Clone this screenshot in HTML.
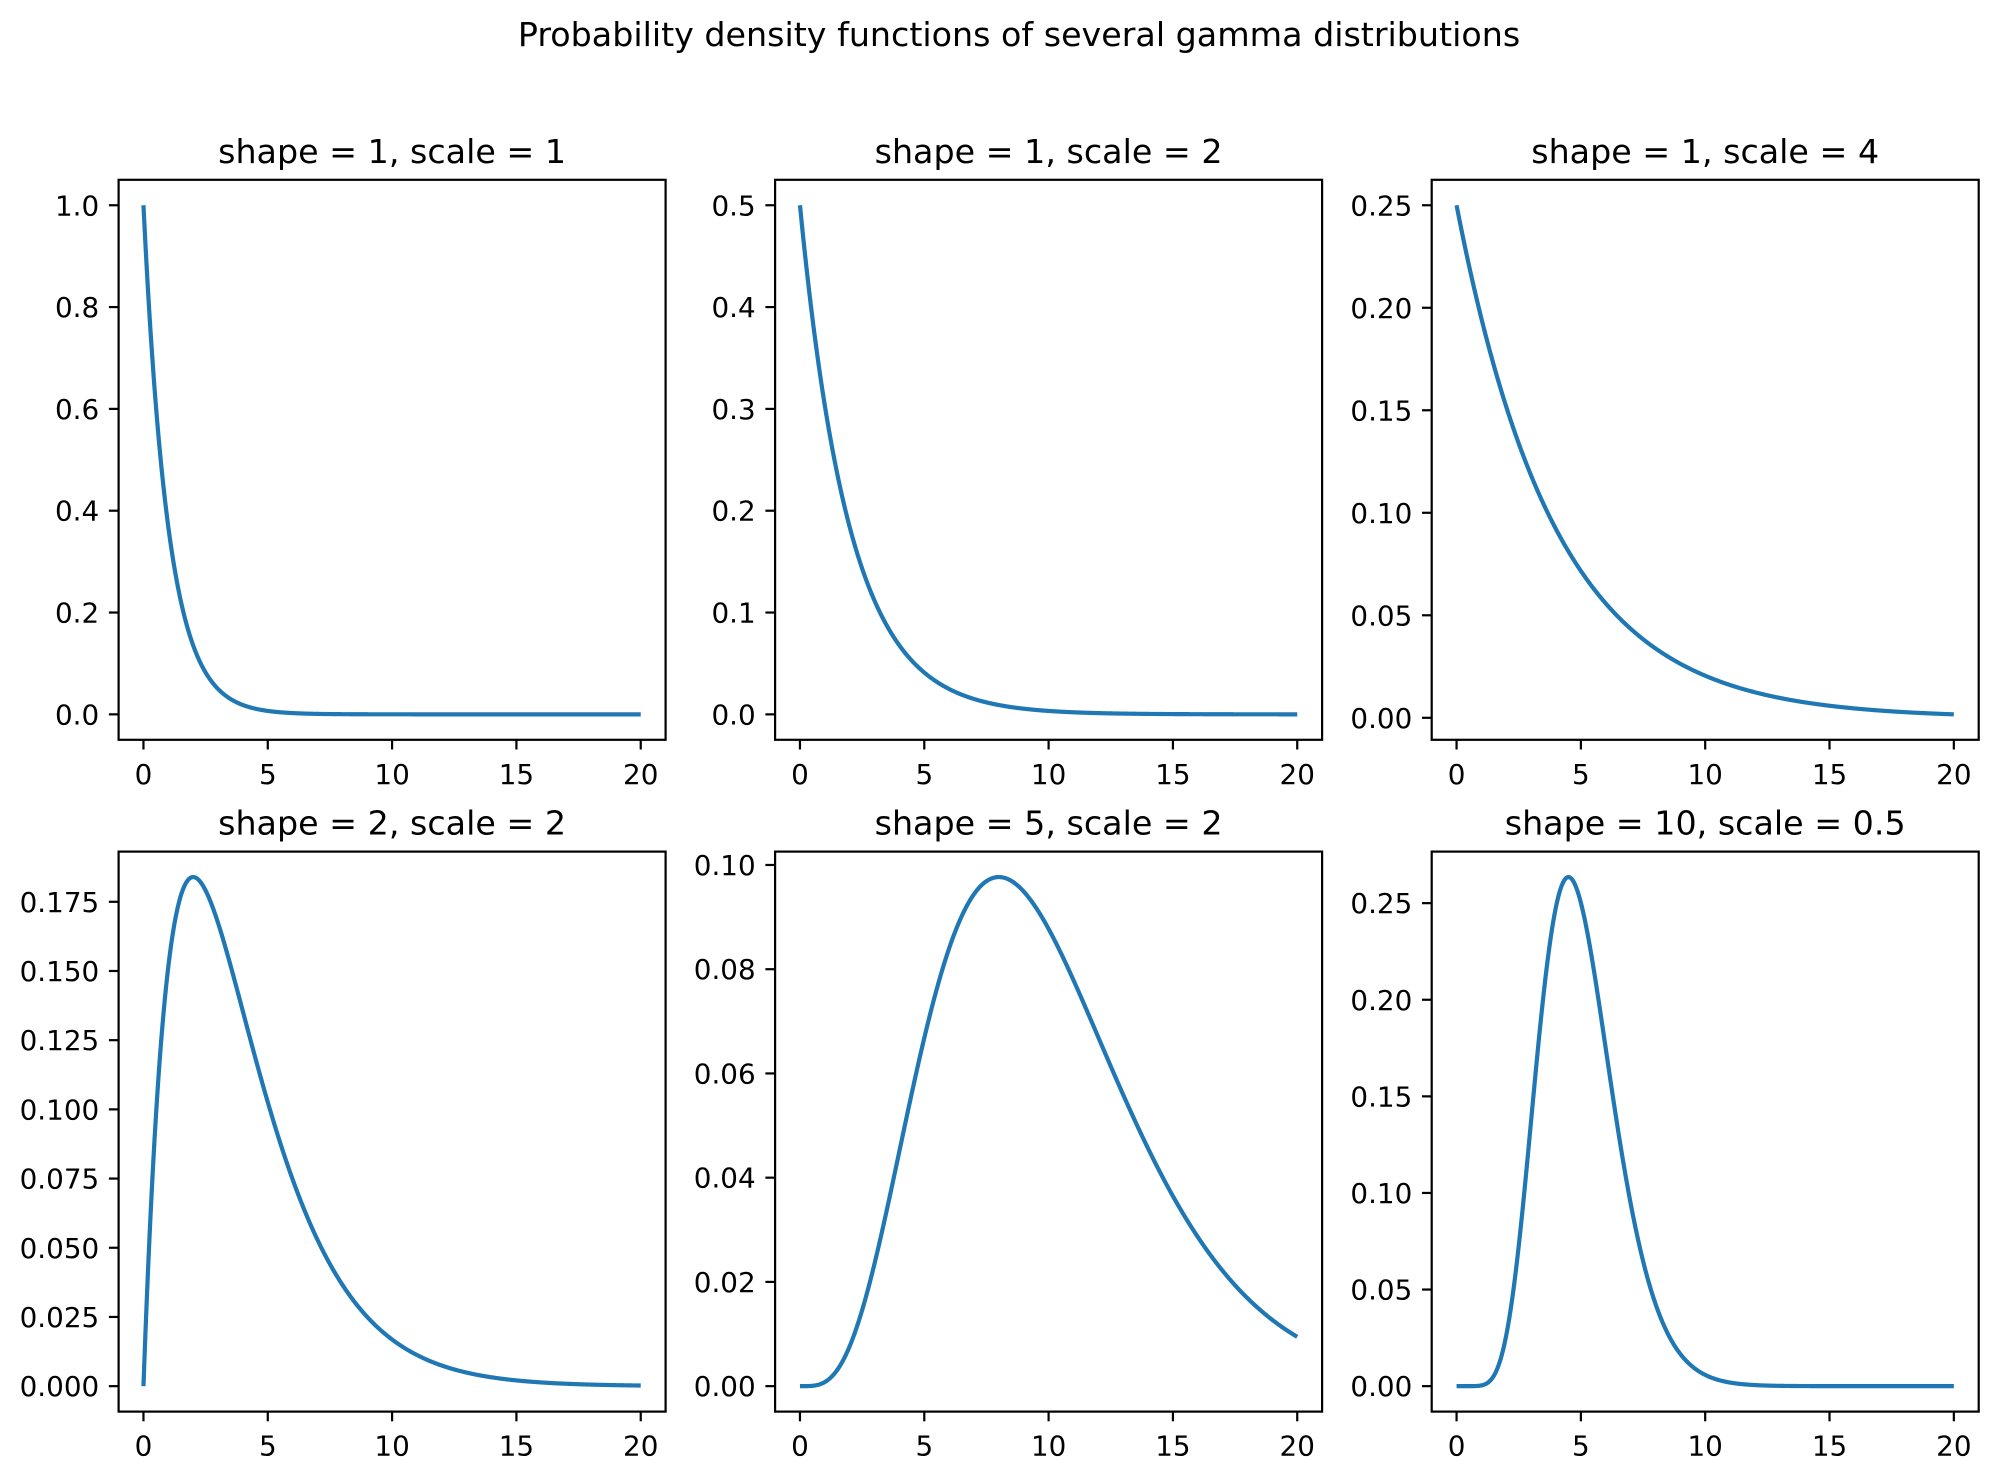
<!DOCTYPE html>
<html><head><meta charset="utf-8"><style>
html,body{margin:0;padding:0;background:#fff;}
svg{display:block;font-family:"DejaVu Sans","Liberation Sans",sans-serif;}
</style></head><body>
<svg id="s" width="1999" height="1479" xmlns="http://www.w3.org/2000/svg">
<text x="1019" y="46" font-size="33.3" text-anchor="middle">Probability density functions of several gamma distributions</text>
</svg>
<script>
const s=document.getElementById('s');
function lg(n){let r=1;for(let i=2;i<n;i++)r*=i;return r;}
const panels=[
 {k:1,th:1,t:"shape = 1, scale = 1",ticks:[0,0.2,0.4,0.6,0.8,1.0],d:1},
 {k:1,th:2,t:"shape = 1, scale = 2",ticks:[0,0.1,0.2,0.3,0.4,0.5],d:1},
 {k:1,th:4,t:"shape = 1, scale = 4",ticks:[0,0.05,0.1,0.15,0.2,0.25],d:2},
 {k:2,th:2,t:"shape = 2, scale = 2",ticks:[0,0.025,0.05,0.075,0.1,0.125,0.15,0.175],d:3},
 {k:5,th:2,t:"shape = 5, scale = 2",ticks:[0,0.02,0.04,0.06,0.08,0.1],d:2},
 {k:10,th:0.5,t:"shape = 10, scale = 0.5",ticks:[0,0.05,0.1,0.15,0.2,0.25],d:2}];
const cols=[118.6,775.1,1431.7],rows=[179.8,851.6],W=547,H=560;
let h='';
panels.forEach((p,i)=>{
 const L=cols[i%3],T=rows[Math.floor(i/3)];
 const N=1000,xs=[],ys=[];
 for(let j=0;j<N;j++){const x=20*j/(N-1);xs.push(x);ys.push(Math.pow(x,p.k-1)*Math.exp(-x/p.th)/(lg(p.k)*Math.pow(p.th,p.k)));}
 let mn=Math.min(...ys),mx=Math.max(...ys),m=(mx-mn)*0.05;
 const y0=mn-m,y1=mx+m;
 const X=x=>L+(x+1)/22*W,Y=y=>T+H-(y-y0)/(y1-y0)*H;
 let d='M'+xs.map((x,j)=>X(x).toFixed(2)+','+Y(ys[j]).toFixed(2)).join('L');
 h+=`<path d="${d}" fill="none" stroke="#1f77b4" stroke-width="4.2" stroke-linejoin="round"/>`;
 h+=`<rect x="${L}" y="${T}" width="${W}" height="${H}" fill="none" stroke="#000" stroke-width="2.2"/>`;
 h+=`<text x="${L+W/2}" y="${T-17}" font-size="33.3" text-anchor="middle">${p.t}</text>`;
 [0,5,10,15,20].forEach(v=>{const x=X(v);h+=`<line x1="${x}" y1="${T+H}" x2="${x}" y2="${T+H+9.7}" stroke="#000" stroke-width="2.2"/><text x="${x}" y="${T+H+44}" font-size="27.8" text-anchor="middle">${v}</text>`;});
 p.ticks.forEach(v=>{const y=Y(v);h+=`<line x1="${L}" y1="${y}" x2="${L-9.7}" y2="${y}" stroke="#000" stroke-width="2.2"/><text x="${L-19.4}" y="${y+10}" font-size="27.8" text-anchor="end">${v.toFixed(p.d)}</text>`;});
});
s.insertAdjacentHTML('beforeend',h);
</script>
</body></html>
